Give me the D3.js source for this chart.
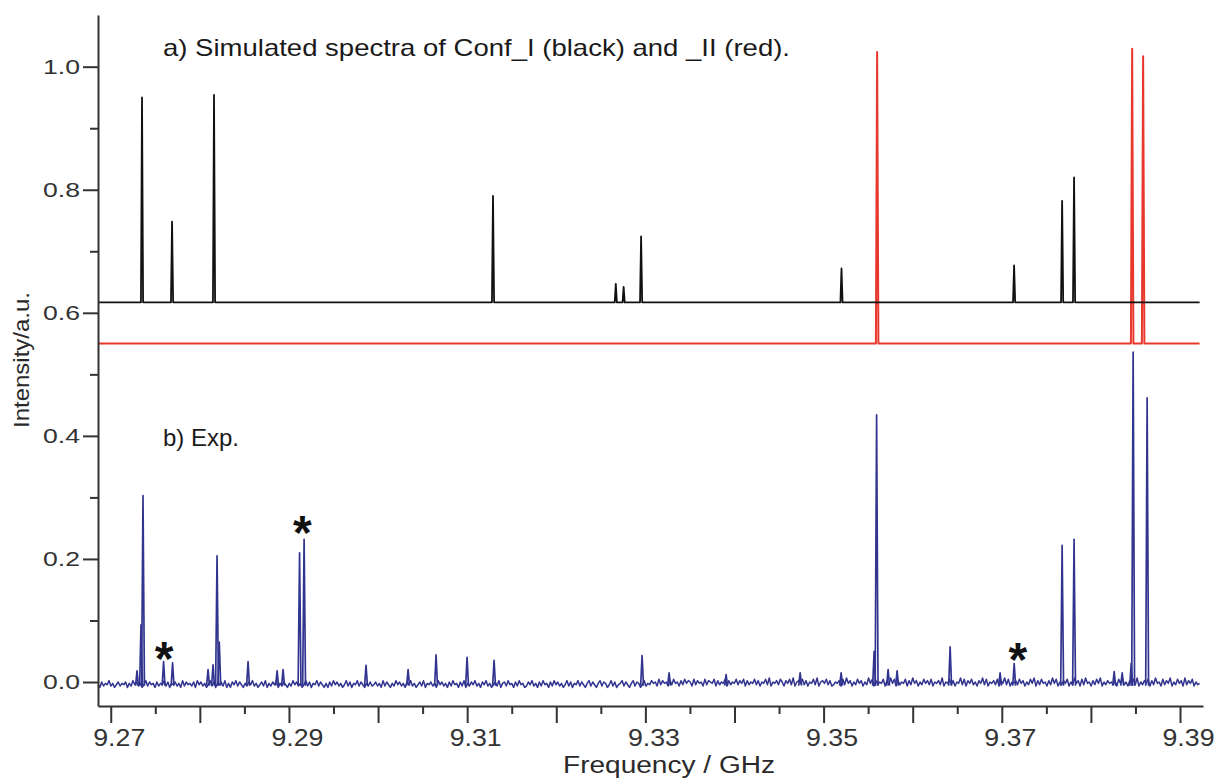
<!DOCTYPE html>
<html>
<head>
<meta charset="utf-8">
<script src="https://cdn.jsdelivr.net/npm/d3@7"></script>
<style>
  body { margin: 0; background: #fff; }
  svg { display: block; font-family: "Liberation Sans", Arial, sans-serif; }
</style>
</head>
<body>
<div id="chart"></div>
<script>
// ---- data ----
// simulated spectrum Conf_I (black), offset baseline
const BLACK_BASE = 0.617;
const BLACK_FREQ = [9.27351, 9.27688, 9.28159, 9.31290, 9.32668, 9.32756, 9.32952, 9.35201, 9.37138, 9.37677, 9.37811];
const BLACK_INT  = [0.950, 0.748, 0.954, 0.790, 0.647, 0.642, 0.724, 0.672, 0.677, 0.782, 0.820];

// simulated spectrum Conf_II (red)
const RED_BASE = 0.550;
const RED_FREQ = [9.35601, 9.38463, 9.38586];
const RED_INT  = [1.024, 1.029, 1.017];

// experimental spectrum (blue): lines
const EXP_BASE = -0.006;
const EXP_FREQ = [9.27295, 9.27340, 9.27362, 9.27593, 9.27694, 9.28092, 9.28148, 9.28193, 9.28218, 9.28541,
                  9.28867, 9.28934, 9.29119, 9.29170, 9.29865, 9.30337, 9.30651, 9.30999, 9.31302, 9.32963,
                  9.33266, 9.33906, 9.34737, 9.35197, 9.35567, 9.35595, 9.35724, 9.35825, 9.36420, 9.36981,
                  9.37139, 9.37677, 9.37811, 9.38261, 9.38351, 9.38452, 9.38474, 9.38631];
const EXP_INT  = [0.018, 0.093, 0.303, 0.033, 0.031, 0.020, 0.028, 0.205, 0.065, 0.033,
                  0.018, 0.020, 0.210, 0.232, 0.027, 0.020, 0.044, 0.040, 0.035, 0.043,
                  0.015, 0.012, 0.015, 0.015, 0.050, 0.434, 0.020, 0.018, 0.057, 0.015,
                  0.030, 0.222, 0.232, 0.017, 0.015, 0.030, 0.536, 0.462];
// experimental baseline noise, one digit per sample (0 = -0.011, step 0.0022)
const NOISE_LEVELS =
  "31524362413524351426352413625341524362514352416253" +
  "42516352413625143526141536253142536241352614253614" +
  "25314263524136251436253141526352413625143625314252" +
  "35241625314263524153624135261435241635241526341526" +
  "14253624153624135261452634152634125362415263415263" +
  "52413625143625314625314625413625134625314625413624" +
  "36452736452637452637465273645273654726354726354736" +
  "47263547362547382546375264738256473625473825647362" +
  "35462738462537462538472635472638472635472638462537" +
  "46372546382547362548372647352648372546372648372546" +
  "37462537482637452638472536472538462738452637482536" +
  "45362748352647382536472638452736482537462836472534";

// starred lines
const STAR_FREQ = [9.27599, 9.29150, 9.37180];
const STAR_INT  = [0.050, 0.255, 0.048];

const SPEC_START = 9.26857, SPEC_END = 9.3922;
const X_LABELLED = [9.27, 9.29, 9.31, 9.33, 9.35, 9.37, 9.39];
const X_MAJOR = [9.27, 9.28, 9.29, 9.30, 9.31, 9.32, 9.33, 9.34, 9.35, 9.36, 9.37, 9.38, 9.39];
const X_MINOR = [9.275, 9.285, 9.295, 9.305, 9.315, 9.325, 9.335, 9.345, 9.355, 9.365, 9.375, 9.385];
const Y_MAJOR = [0, 0.2, 0.4, 0.6, 0.8, 1.0];
const Y_MINOR = [0.1, 0.3, 0.5, 0.7, 0.9];

// ---- layout ----
const width = 1216, height = 778;
const x = d3.scaleLinear().domain([9.26857, 9.39258]).range([98, 1203]);
const y = d3.scaleLinear().domain([-0.039, 1.084]).range([706, 15]);
const AXIS_COLOR = "#333";

const svg = d3.select("#chart").append("svg")
    .attr("width", width)
    .attr("height", height);

const line = d3.line().x(d => x(d[0])).y(d => y(d[1]));

// stick spectrum -> narrow triangles on a baseline
function stickPoints(base, freqs, ints, hw) {
    let pts = [[SPEC_START, base]];
    freqs.forEach((f, i) => {
        pts.push([f - hw, base], [f, ints[i]], [f + hw, base]);
    });
    pts.push([SPEC_END, base]);
    return pts;
}

// red (Conf_II)
svg.append("path")
    .attr("d", line(stickPoints(RED_BASE, RED_FREQ, RED_INT, 0.00014)))
    .attr("fill", "none")
    .attr("stroke", "#e8372c")
    .attr("stroke-width", 2)
    .attr("stroke-linejoin", "round");

// black (Conf_I)
svg.append("path")
    .attr("d", line(stickPoints(BLACK_BASE, BLACK_FREQ, BLACK_INT, 0.00012)))
    .attr("fill", "none")
    .attr("stroke", "#111")
    .attr("stroke-width", 1.8)
    .attr("stroke-linejoin", "round");

// experimental: noise line + line peaks
const noisePts = NOISE_LEVELS.split("").map((c, i, arr) => [
    SPEC_START + i * (SPEC_END - SPEC_START) / (arr.length - 1),
    -0.011 + (+c) * 0.0022
]);
const BLUE = "#32358f";
svg.append("path")
    .attr("d", line(noisePts))
    .attr("fill", "none")
    .attr("stroke", BLUE)
    .attr("stroke-width", 1.5)
    .attr("stroke-linejoin", "round");

svg.append("g").selectAll("path")
    .data(EXP_FREQ.map((f, i) => [f, EXP_INT[i]]))
    .join("path")
    .attr("d", d => line([[d[0] - 0.00016, EXP_BASE], [d[0], d[1]], [d[0] + 0.00016, EXP_BASE]]))
    .attr("fill", "none")
    .attr("stroke", BLUE)
    .attr("stroke-width", 1.7)
    .attr("stroke-linejoin", "round");

// ---- axes ----
const yAxis = svg.append("g")
    .attr("transform", `translate(${x.range()[0]},0)`)
    .call(d3.axisLeft(y).tickValues(Y_MAJOR).tickSize(15).tickSizeOuter(0).tickPadding(3).tickFormat(d3.format(".1f")));
svg.append("g")
    .attr("transform", `translate(${x.range()[0]},0)`)
    .call(d3.axisLeft(y).tickValues(Y_MINOR).tickSize(8).tickSizeOuter(0).tickFormat(""))
    .select(".domain").remove();

yAxis.selectAll("text")
    .attr("font-size", 21)
    .attr("textLength", 37)
    .attr("lengthAdjust", "spacingAndGlyphs")
    .attr("fill", AXIS_COLOR);

const xAxis = svg.append("g")
    .attr("transform", `translate(0,${y.range()[0]})`)
    .call(d3.axisBottom(x).tickValues(X_MAJOR).tickSize(17).tickSizeOuter(0).tickPadding(6)
        .tickFormat(d => X_LABELLED.some(v => Math.abs(v - d) < 1e-6) ? d3.format(".2f")(d) : ""));
svg.append("g")
    .attr("transform", `translate(0,${y.range()[0]})`)
    .call(d3.axisBottom(x).tickValues(X_MINOR).tickSize(8).tickSizeOuter(0).tickFormat(""))
    .select(".domain").remove();

xAxis.selectAll("text")
    .attr("font-size", 24)
    .attr("dx", 8)
    .attr("fill", AXIS_COLOR)
    .filter(function() { return this.textContent !== ""; })
    .attr("textLength", 52)
    .attr("lengthAdjust", "spacingAndGlyphs");

svg.selectAll(".domain, .tick line")
    .attr("stroke", AXIS_COLOR)
    .attr("stroke-width", 2);

// ---- labels ----
svg.append("text")
    .attr("transform", "translate(29,360) rotate(-90)")
    .attr("text-anchor", "middle")
    .attr("font-size", 22)
    .attr("textLength", 136)
    .attr("lengthAdjust", "spacingAndGlyphs")
    .attr("fill", "#2a2a2a")
    .text("Intensity/a.u.");

svg.append("text")
    .attr("x", 669).attr("y", 773)
    .attr("text-anchor", "middle")
    .attr("font-size", 23)
    .attr("textLength", 212)
    .attr("lengthAdjust", "spacingAndGlyphs")
    .attr("fill", "#2a2a2a")
    .text("Frequency / GHz");

svg.append("text")
    .attr("x", 163).attr("y", 56)
    .attr("font-size", 24)
    .attr("textLength", 627)
    .attr("lengthAdjust", "spacingAndGlyphs")
    .attr("fill", "#1a1a1a")
    .text("a) Simulated spectra of Conf_I (black) and _II (red).");

svg.append("text")
    .attr("x", 163).attr("y", 446)
    .attr("font-size", 24)
    .attr("fill", "#1a1a1a")
    .text("b) Exp.");

svg.append("g").selectAll("text")
    .data(STAR_FREQ.map((f, i) => [f, STAR_INT[i]]))
    .join("text")
    .attr("x", d => x(d[0]))
    .attr("y", d => y(d[1]) + 24)
    .attr("text-anchor", "middle")
    .attr("font-size", 48)
    .attr("font-weight", "bold")
    .attr("fill", "#111")
    .text("*");
</script>
</body>
</html>
